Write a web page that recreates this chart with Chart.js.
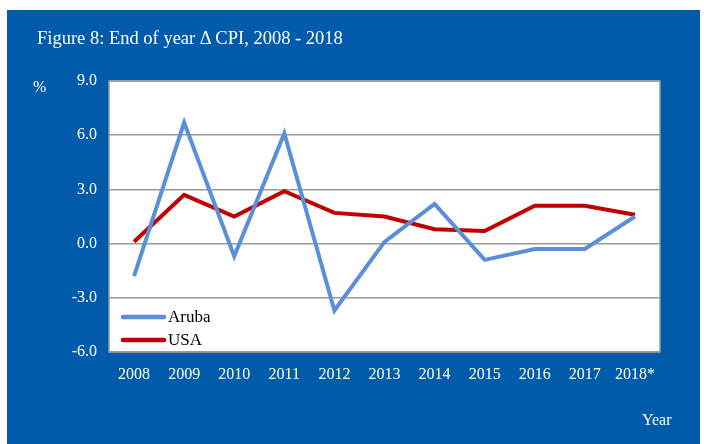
<!DOCTYPE html>
<html>
<head>
<meta charset="utf-8">
<script src="https://cdn.jsdelivr.net/npm/chart.js@4.4.0/dist/chart.umd.min.js"></script>
<style>
  html, body { margin: 0; padding: 0; background: #fff; }
  #wrap { position: relative; width: 704px; height: 444px; }
  #panel { position: absolute; left: 7px; top: 10px; width: 693px; height: 434px; background: #005CAB; }
  canvas { position: absolute; left: 0; top: 0; }
  .txt { position: absolute; color: #fff; font-family: "Liberation Serif", "Times New Roman", serif; white-space: nowrap; }
</style>
</head>
<body>
<div id="wrap">
  <div id="panel"></div>
  <canvas id="c" width="704" height="444"></canvas>
  <div class="txt" style="left:37px; top:28px; font-size:18.5px;">Figure 8: End of year &Delta; CPI, 2008 - 2018</div>
  <div class="txt" style="left:33px; top:78px; font-size:16px;">%</div>
  <div class="txt" style="left:642px; top:411px; font-size:16px;">Year</div>
</div>
<script>
// Year-end change in CPI
const years = ['2008', '2009', '2010', '2011', '2012', '2013', '2014', '2015', '2016', '2017', '2018*'];
const aruba = [-1.8, 6.7, -0.7, 6.1, -3.7, 0.1, 2.2, -0.9, -0.3, -0.3, 1.5];
const usa = [0.1, 2.7, 1.5, 2.9, 1.7, 1.5, 0.8, 0.7, 2.1, 2.1, 1.6];
const yTicks = [-6, -3, 0, 3, 6, 9];

// white plot background + grey frame
const plotBox = {
    id: 'plotBox',
    beforeDraw(chart) {
        const a = chart.chartArea, ctx = chart.ctx;
        ctx.save();
        ctx.fillStyle = '#fff';
        ctx.fillRect(a.left, a.top, a.right - a.left, a.bottom - a.top);
        ctx.restore();
    },
    afterDatasetsDraw(chart) {
        const a = chart.chartArea, ctx = chart.ctx;
        ctx.save();
        ctx.strokeStyle = '#9a9a9a';
        ctx.lineWidth = 1.5;
        ctx.strokeRect(a.left, a.top, a.right - a.left, a.bottom - a.top);
        ctx.restore();
    }
};

// legend drawn inside the plot, bottom-left
const innerLegend = {
    id: 'innerLegend',
    afterDatasetsDraw(chart) {
        const a = chart.chartArea, ctx = chart.ctx;
        ctx.save();
        ctx.font = '17px "Liberation Serif", serif';
        ctx.textBaseline = 'middle';
        chart.data.datasets.forEach((ds, i) => {
            const y = a.bottom - 35 + i * 23;
            ctx.strokeStyle = ds.borderColor;
            ctx.lineWidth = 4.5;
            ctx.lineCap = 'round';
            ctx.beginPath();
            ctx.moveTo(a.left + 14, y);
            ctx.lineTo(a.left + 55, y);
            ctx.stroke();
            ctx.fillStyle = '#000';
            ctx.fillText(ds.label, a.left + 59, y + 1);
        });
        ctx.restore();
    }
};

new Chart(document.getElementById('c'), {
    type: 'line',
    data: {
        labels: years,
        datasets: [
            { label: 'Aruba', data: aruba, borderColor: '#5B8FD9', borderWidth: 4, pointRadius: 0, tension: 0 },
            { label: 'USA', data: usa, borderColor: '#C00000', borderWidth: 4, pointRadius: 0, tension: 0 }
        ]
    },
    options: {
        responsive: false,
        animation: false,
        layout: { padding: { top: 81, right: 44, left: 0, bottom: 0 } },
        scales: {
            x: {
                offset: true,
                grid: { display: false, drawTicks: false },
                border: { display: false },
                ticks: { color: '#fff', padding: 13, maxRotation: 0, font: { family: 'Liberation Serif', size: 16 } },
                afterFit(s) { s.height = 92; }
            },
            y: {
                min: -6, max: 9,
                afterBuildTicks(s) { s.ticks = yTicks.map(v => ({ value: v })); },
                grid: { color: '#9a9a9a', lineWidth: 1.5, drawTicks: false },
                border: { display: false },
                ticks: { color: '#fff', padding: 12, font: { family: 'Liberation Serif', size: 16 },
                         callback: v => v.toFixed(1) },
                afterFit(s) { s.width = 109; }
            }
        },
        plugins: { legend: { display: false }, tooltip: { enabled: false } }
    },
    plugins: [plotBox, innerLegend]
});
</script>
</body>
</html>
